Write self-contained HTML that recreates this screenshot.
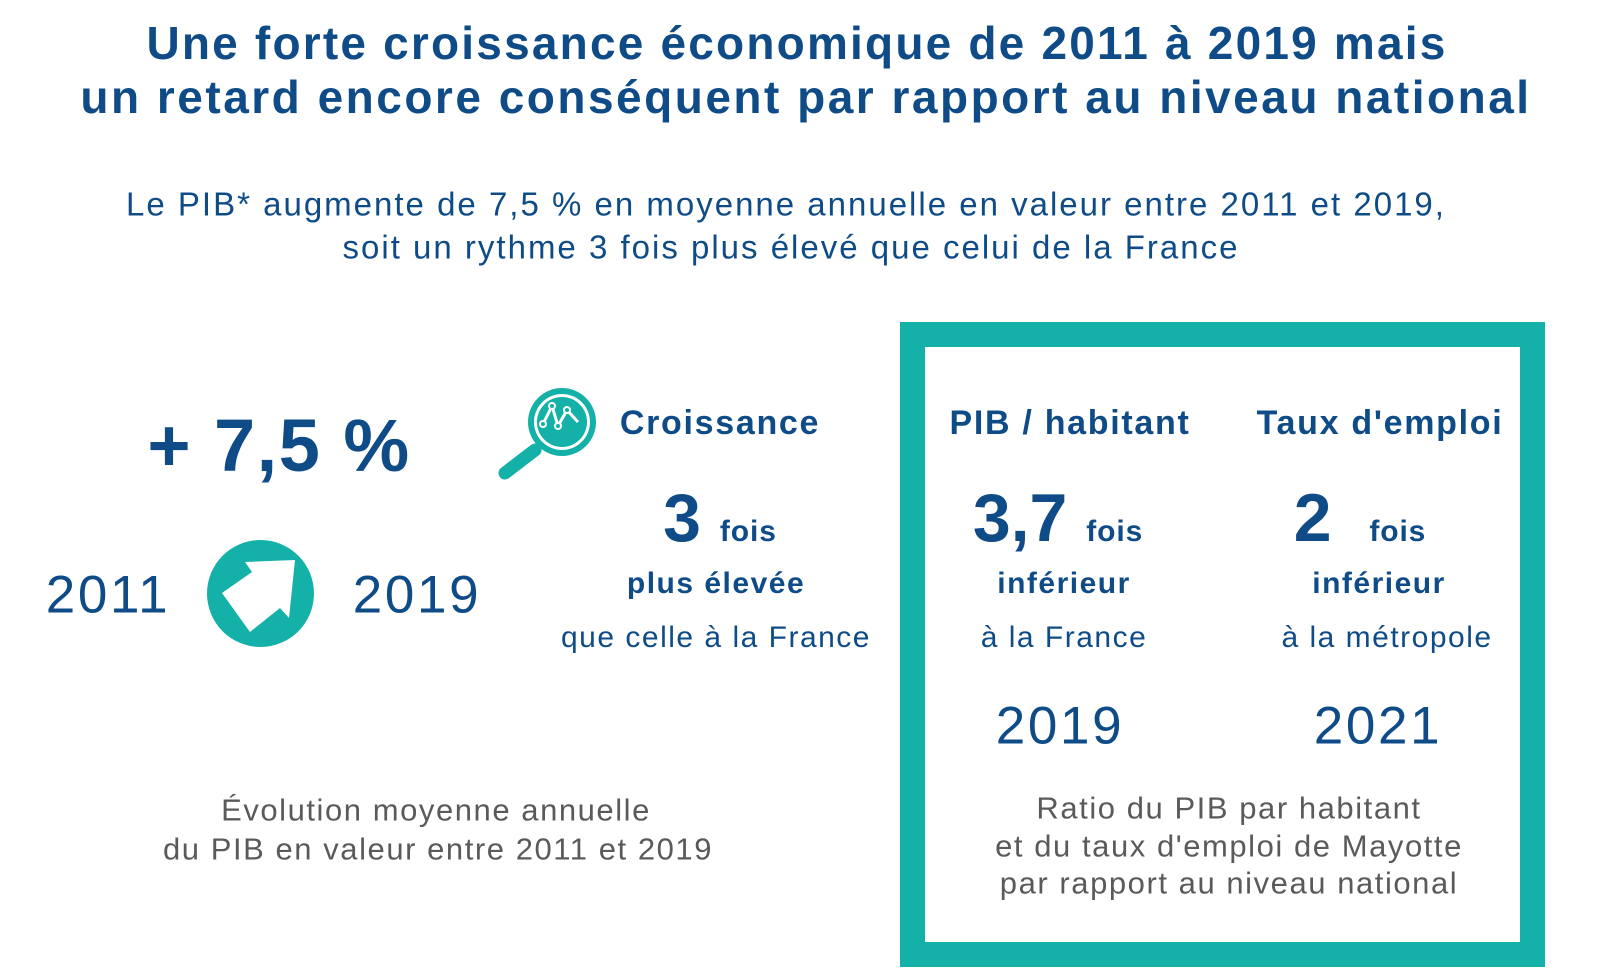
<!DOCTYPE html>
<html><head><meta charset="utf-8"><style>
body{margin:0;width:1613px;height:979px;background:#fff;position:relative;overflow:hidden;font-family:"Liberation Sans",sans-serif;color:#0f4c87}
.t{position:absolute;transform:translate(-50%,-50%);white-space:nowrap;line-height:1;letter-spacing:0.05em}
.b{font-weight:bold}
.g{color:#5a5a5a}
.n{letter-spacing:0}
</style></head><body>
<div class="t b" style="left:797px;top:43px;font-size:46px;letter-spacing:2.2px">Une forte croissance économique de 2011 à 2019 mais</div>
<div class="t b" style="left:806px;top:97px;font-size:46px;letter-spacing:2.5px">un retard encore conséquent par rapport au niveau national</div>
<div class="t" style="left:786px;top:204px;font-size:33px;letter-spacing:2px">Le PIB* augmente de 7,5 % en moyenne annuelle en valeur entre 2011 et 2019,</div>
<div class="t" style="left:791px;top:247px;font-size:33px;letter-spacing:2px">soit un rythme 3 fois plus élevé que celui de la France</div>

<div class="t b" style="left:279px;top:446px;font-size:74px;letter-spacing:0.02em">+ 7,5 %</div>
<div class="t" style="left:108px;top:595px;font-size:53px">2011</div>
<div class="t" style="left:417px;top:595px;font-size:53px">2019</div>
<svg style="position:absolute;left:207px;top:540px" width="107" height="107" viewBox="0 0 107 107">
<circle cx="53.5" cy="53.5" r="53.5" fill="#14b1a8"/>
<polygon points="88,20 38,22 45,32 15,53 43,92 73,68 82,78" fill="#fff"/>
</svg>
<svg style="position:absolute;left:495px;top:380px" width="110" height="100" viewBox="0 0 110 100">
<circle cx="67" cy="42" r="34" fill="#14b1a8"/>
<circle cx="67" cy="42" r="28" fill="#fff"/>
<circle cx="67" cy="42" r="25" fill="#14b1a8"/>
<polyline points="48,44 57,26 63,46 72,30 83,42" fill="none" stroke="#fff" stroke-width="3"/>
<g fill="#14b1a8" stroke="#fff" stroke-width="2"><circle cx="57" cy="26" r="3"/><circle cx="63" cy="46" r="3"/><circle cx="72" cy="30" r="3"/><circle cx="48" cy="44" r="3"/></g>
<line x1="40" y1="70" x2="10" y2="93" stroke="#14b1a8" stroke-width="13" stroke-linecap="round"/>
</svg>
<div class="t b" style="left:720px;top:423px;font-size:34px">Croissance</div>
<div class="t b n" style="left:720px;top:518px;font-size:68px">3 <span style="font-size:30px;letter-spacing:0.03em">fois</span></div>
<div class="t b" style="left:716px;top:584px;font-size:30px">plus élevée</div>
<div class="t" style="left:716px;top:638px;font-size:30px">que celle à la France</div>
<div class="t g" style="left:436px;top:810px;font-size:31px">Évolution moyenne annuelle</div>
<div class="t g" style="left:438px;top:849px;font-size:31px">du PIB en valeur entre 2011 et 2019</div>

<div style="position:absolute;left:900px;top:322px;width:595px;height:595px;border:25px solid #14b1a8"></div>
<div class="t b" style="left:1070px;top:423px;font-size:34px">PIB / habitant</div>
<div class="t b n" style="left:1058px;top:518px;font-size:68px">3,7 <span style="font-size:30px;letter-spacing:0.03em">fois</span></div>
<div class="t b" style="left:1064px;top:584px;font-size:30px">inférieur</div>
<div class="t" style="left:1064px;top:638px;font-size:30px">à la France</div>
<div class="t" style="left:1060px;top:726px;font-size:53px">2019</div>
<div class="t b" style="left:1380px;top:423px;font-size:34px">Taux d'emploi</div>
<div class="t b n" style="left:1360px;top:518px;font-size:68px">2 &nbsp;<span style="font-size:30px;letter-spacing:0.03em">fois</span></div>
<div class="t b" style="left:1379px;top:584px;font-size:30px">inférieur</div>
<div class="t" style="left:1387px;top:638px;font-size:30px">à la métropole</div>
<div class="t" style="left:1378px;top:726px;font-size:53px">2021</div>
<div class="t g" style="left:1229px;top:808px;font-size:31px">Ratio du PIB par habitant</div>
<div class="t g" style="left:1229px;top:846px;font-size:31px">et du taux d'emploi de Mayotte</div>
<div class="t g" style="left:1229px;top:883px;font-size:31px">par rapport au niveau national</div>
</body></html>
